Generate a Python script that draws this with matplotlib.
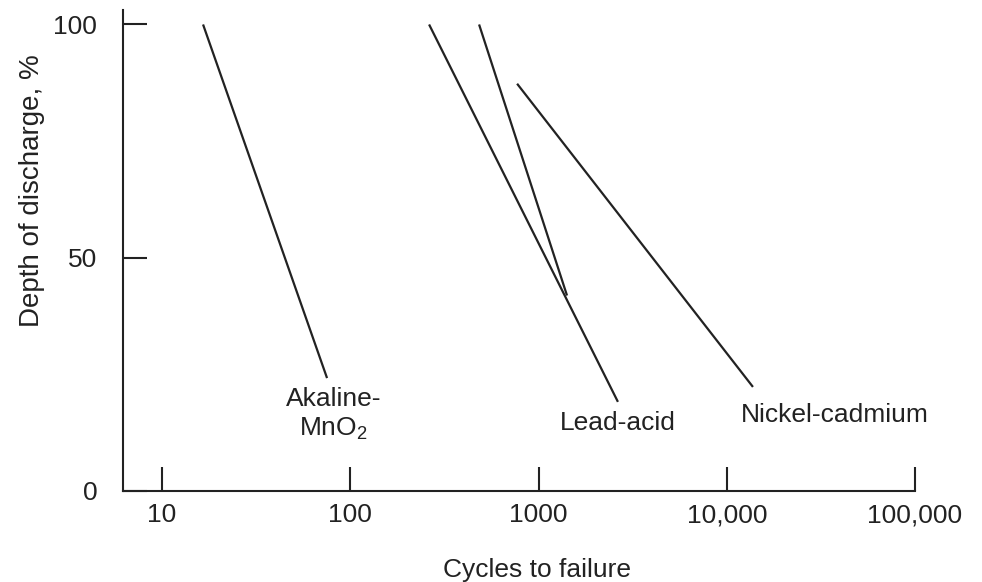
import matplotlib
matplotlib.use('Agg')
import matplotlib.pyplot as plt
from matplotlib.ticker import FixedLocator, NullLocator

plt.rcParams['font.family'] = ['Liberation Sans', 'DejaVu Sans']
plt.rcParams['mathtext.fontset'] = 'custom'
plt.rcParams['mathtext.rm'] = 'Liberation Sans'
plt.rcParams['mathtext.it'] = 'Liberation Sans:italic'

# cycles to failure vs depth of discharge (end points of each straight line)
alk_cycles = [16.5, 75.2]
alk_dod = [100, 24.2]
lead_a_cycles = [262, 2640]
lead_a_dod = [100, 19.1]
lead_b_cycles = [483, 1416]
lead_b_dod = [100, 41.9]
nicd_cycles = [769, 13770]
nicd_dod = [87.3, 22.3]

x_ticks = [10, 100, 1000, 10000, 100000]
x_labels = ['10', '100', '1000', '10,000', '100,000']
y_ticks = [0, 50, 100]

ink = '#222222'
fs = 19

fig = plt.figure(figsize=(9.82, 5.82), dpi=100)
ax = fig.add_axes([0.1253, 0.1564, 0.8065, 0.8264])

for xs, ys in [(alk_cycles, alk_dod), (lead_a_cycles, lead_a_dod),
               (lead_b_cycles, lead_b_dod), (nicd_cycles, nicd_dod)]:
    ax.plot(xs, ys, color=ink, lw=1.6, solid_capstyle='butt')

ax.set_xscale('log')
ax.set_xlim(6.2, 100000)
ax.set_ylim(0, 103.1)

ax.xaxis.set_major_locator(FixedLocator(x_ticks))
ax.xaxis.set_minor_locator(NullLocator())
ax.set_xticklabels(x_labels)
ax.set_yticks(y_ticks)

ax.tick_params(axis='both', direction='in', length=17, width=1.5,
               color=ink, labelcolor=ink, labelsize=fs)
ax.tick_params(axis='x', pad=9)
ax.tick_params(axis='y', pad=18.5)

for side in ['top', 'right']:
    ax.spines[side].set_visible(False)
for side in ['left', 'bottom']:
    ax.spines[side].set_linewidth(1.5)
    ax.spines[side].set_color(ink)

ax.set_xlabel('Cycles to failure', fontsize=fs, color=ink)
ax.xaxis.set_label_coords(0.523, -0.139)
ax.set_ylabel('Depth of discharge, %', fontsize=20, color=ink)
ax.yaxis.set_label_coords(-0.0985, 0.624)

ax.text(81.5, 18.2, 'Akaline-', ha='center', va='baseline', fontsize=fs, color=ink)
ax.text(81.5, 11.8, 'MnO$_2$', ha='center', va='baseline', fontsize=fs, color=ink)
ax.text(2642, 13.1, 'Lead-acid', ha='center', va='baseline', fontsize=fs, color=ink)
ax.text(37300, 14.8, 'Nickel-cadmium', ha='center', va='baseline', fontsize=fs, color=ink)

fig.savefig('out.png', dpi=100)
